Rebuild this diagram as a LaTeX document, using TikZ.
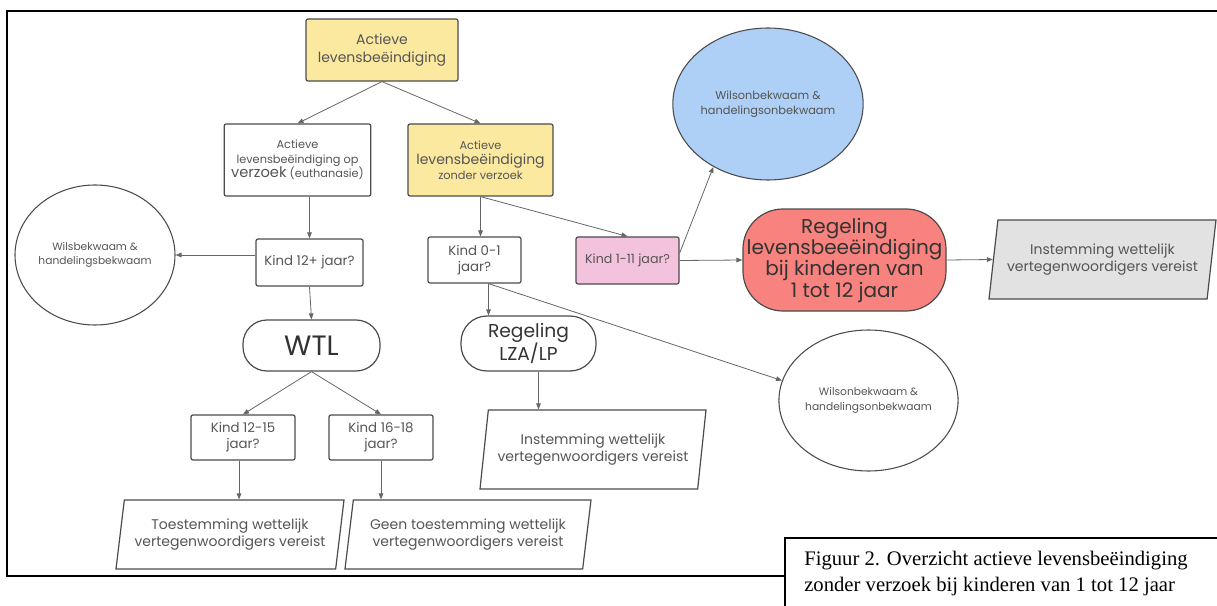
\documentclass[tikz,border=0pt]{standalone}
\usepackage{fontspec}
\setmainfont{Poppins}
\newfontfamily\capfont{Liberation Serif}
\usetikzlibrary{shapes.geometric,calc,arrows.meta}
\definecolor{geel}{RGB}{252,233,160}
\definecolor{roze}{RGB}{243,194,220}
\definecolor{blauw}{RGB}{174,208,247}
\definecolor{rood}{RGB}{248,130,126}
\definecolor{grijs}{RGB}{226,226,226}
\definecolor{lijn}{RGB}{75,75,75}
\definecolor{tekst}{RGB}{85,85,85}
\newcommand{\fs}[2]{\fontsize{#1}{#2}\selectfont}
\tikzset{
  blok/.style={draw=lijn,line width=0.9pt,rounded corners=1.5pt,align=center,text=tekst,inner sep=1pt,font=\fs{10}{12}},
  rond/.style={draw=lijn,line width=0.8pt,ellipse,align=center,text=tekst,inner sep=0pt,font=\fs{8}{11}},
  pil/.style={draw=lijn,line width=0.9pt,align=center,text=black!80,inner sep=0pt},
  para/.style={draw=lijn,line width=0.9pt,trapezium,trapezium left angle=75,trapezium right angle=105,
    trapezium stretches body,align=center,text=tekst,inner sep=0pt,font=\fs{10.5}{12.5}},
  pijl/.style={draw=black!60,line width=0.6pt,-{Triangle[length=4.5pt,width=3.5pt]}}
}

\begin{document}
\begin{tikzpicture}[x=0.75pt,y=-0.75pt]
\useasboundingbox (0,0) rectangle (1217,606);
% frame and caption box
\draw[line width=1.1pt] (1217,11) -- (7,11) -- (7,576) -- (785,576);
\draw[line width=1.1pt] (1217,538) -- (785,538) -- (785,606);
\node[anchor=north west,align=left,inner sep=0pt,font=\capfont\fs{15.5}{19.5}] (cap) at (804,551)
  {Figuur 2. Overzicht actieve levensbeëindiging\\zonder verzoek bij kinderen van 1 tot 12 jaar};

% top part
\node[blok,fill=geel,minimum width=114pt,minimum height=46.5pt,font=\fs{10.5}{13.3}] (act) at (382,50)
  {Actieve\\levensbeëindiging};
\node[blok,minimum width=110pt,minimum height=54pt,font=\fs{8.5}{11}] (opv) at (297.5,160)
  {Actieve\\levensbeëindiging op\\{\fs{11}{11}verzoek} (euthanasie)};
\node[blok,fill=geel,minimum width=108.75pt,minimum height=54pt,font=\fs{8.5}{11.3}] (zonder) at (480.5,160)
  {Actieve\\{\fs{10.5}{11.3}levensbeëindiging}\\zonder verzoek};

% question boxes
\node[blok,minimum width=80.25pt,minimum height=35.25pt] (k12) at (309.5,262.5) {Kind 12+ jaar?};
\node[blok,minimum width=69.75pt,minimum height=34.5pt] (k01) at (474.5,260) {Kind 0-1\\jaar?};
\node[blok,fill=roze,minimum width=77.25pt,minimum height=35.25pt,font=\fs{9.5}{11}] (k111) at (627.5,260.5) {Kind 1-11 jaar?};
\node[blok,minimum width=78pt,minimum height=33.75pt] (k1215) at (243,437.5) {Kind 12-15\\jaar?};
\node[blok,minimum width=78pt,minimum height=33.75pt] (k1618) at (381,437.5) {Kind 16-18\\jaar?};

% ellipses
\node[rond,minimum width=120pt,minimum height=105pt] (wils) at (95,255) {Wilsbekwaam \&\\handelingsbekwaam};
\node[rond,fill=blauw,minimum width=136.5pt,minimum height=114pt,font=\fs{8.5}{11}] (wilsblauw) at (768,104) {Wilsonbekwaam \&\\handelingsonbekwaam};
\node[rond,minimum width=128.25pt,minimum height=105.75pt] (wilsonder) at (868.5,400.5) {Wilsonbekwaam \&\\handelingsonbekwaam};

% rounded ones
\node[pil,rounded corners=18pt,minimum width=102.75pt,minimum height=38.25pt,font=\fs{21}{21}] (wtl) at (311.5,345.5) {WTL};
\node[pil,rounded corners=19.5pt,minimum width=101.25pt,minimum height=41.25pt,font=\fs{14}{16}] (lza) at (528.5,343.5) {Regeling\\LZA/LP};
\node[pil,fill=rood,rounded corners=30pt,minimum width=152.25pt,minimum height=76.5pt,font=\fs{15}{16}] (regel) at (844.5,260)
  {Regeling\\levensbeeëindiging\\bij kinderen van\\1 tot 12 jaar};

% parallelograms
\node[para,fill=grijs,trapezium left angle=74,trapezium right angle=106,minimum width=170.25pt,minimum height=59.25pt] (instgrijs) at (1102.5,259.5)
  {Instemming wettelijk\\vertegenwoordigers vereist};
\node[para,minimum width=169.5pt,minimum height=59.25pt] (inst) at (593,449.5)
  {Instemming wettelijk\\vertegenwoordigers vereist};
\node[para,minimum width=171pt,minimum height=51.75pt] (toest) at (230,534.5)
  {Toestemming wettelijk\\vertegenwoordigers vereist};
\node[para,minimum width=184.5pt,minimum height=51.75pt] (geen) at (468,534.5)
  {Geen toestemming wettelijk\\vertegenwoordigers vereist};

% connectors
\coordinate (k01b) at ($(k01.south)+(14,0)$);
\coordinate (lzab) at ($(lza.south)+(10,0)$);
\draw[pijl] (act.south) -- (opv.north);
\draw[pijl] (act.south) -- (zonder.north);
\draw[pijl] (opv.south -| k12.north) -- (k12.north);
\draw[pijl] (k12.west |- wils.east) -- (wils.east);
\draw[pijl] (k12.south) -- (wtl.north);
\draw[pijl] (wtl.south) -- (k1215.north);
\draw[pijl] (wtl.south) -- (k1618.north);
\draw[pijl] ($(k1215.south)+(-4,0)$) -- ($(k1215.south |- toest.north)+(-4,0)$);
\draw[pijl] (k1618.south) -- (k1618.south |- geen.north);
\draw[pijl] (zonder.south) -- (zonder.south |- k01.north);
\draw[pijl] (zonder.south) -- (k111.north);
\draw[pijl] (k01b) -- (k01b |- lza.north);
\draw[pijl] (k01b) -- (wilsonder.167);
\draw[pijl] (lzab) -- (lzab |- inst.north);
\draw[pijl] (k111.east) -- (regel.west);
\draw[pijl] (k111.8) -- (wilsblauw.229);
\draw[pijl] (regel.east) -- (instgrijs.west);
\end{tikzpicture}
\end{document}
